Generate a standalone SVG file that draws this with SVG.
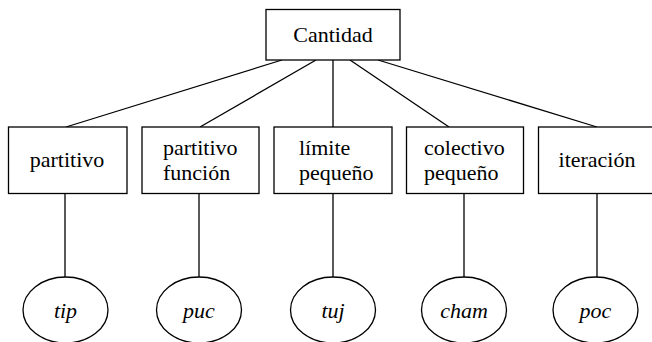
<svg xmlns="http://www.w3.org/2000/svg" width="652" height="342" viewBox="0 0 652 342">
<style>
.box{fill:#fff;stroke:#000;stroke-width:1.3}
.ell{fill:#fff;stroke:#000;stroke-width:1.3}
.ln{stroke:#000;stroke-width:1.3;fill:none}
.t{font-family:'Liberation Serif','DejaVu Serif',serif;font-size:22px;fill:#000}
.c{text-anchor:middle}
.it{font-style:italic;text-anchor:middle}
</style>
<rect width="652" height="342" fill="#fff"/>
<g id="connectors">
<line class="ln" x1="282" y1="60" x2="66" y2="127"/>
<line class="ln" x1="316" y1="60" x2="200" y2="127"/>
<line class="ln" x1="333" y1="60" x2="333" y2="127"/>
<line class="ln" x1="350" y1="60" x2="449" y2="127"/>
<line class="ln" x1="378" y1="60" x2="597" y2="127"/>
<line class="ln" x1="65" y1="193.5" x2="65" y2="277"/>
<line class="ln" x1="199" y1="193.5" x2="199" y2="277"/>
<line class="ln" x1="333" y1="193.5" x2="333" y2="277"/>
<line class="ln" x1="464" y1="193.5" x2="464" y2="277"/>
<line class="ln" x1="597" y1="193.5" x2="597" y2="277"/>
</g>
<g id="cantidad">
<rect class="box" x="266" y="9.5" width="134" height="50.5"/>
<text class="t c" font-family="Liberation Serif, serif" x="333" y="42">Cantidad</text>
</g>
<g id="partitivo">
<rect class="box" x="8.5" y="127" width="118.5" height="66.5"/>
<text class="t c" font-family="Liberation Serif, serif" x="67" y="167">partitivo</text>
</g>
<g id="partitivo-funcion">
<rect class="box" x="142" y="127" width="117" height="66.5"/>
<text class="t" font-family="Liberation Serif, serif" x="163" y="155">partitivo</text>
<text class="t" font-family="Liberation Serif, serif" x="163" y="180">función</text>
</g>
<g id="limite-pequeno">
<rect class="box" x="274" y="127" width="118" height="66.5"/>
<text class="t" font-family="Liberation Serif, serif" x="299" y="155">límite</text>
<text class="t" font-family="Liberation Serif, serif" x="299" y="180">pequeño</text>
</g>
<g id="colectivo-pequeno">
<rect class="box" x="406.5" y="127" width="117" height="66.5"/>
<text class="t" font-family="Liberation Serif, serif" x="424" y="155">colectivo</text>
<text class="t" font-family="Liberation Serif, serif" x="424" y="180">pequeño</text>
</g>
<g id="iteracion">
<rect class="box" x="538.5" y="127" width="120" height="66.5"/>
<text class="t c" font-family="Liberation Serif, serif" x="597" y="167">iteración</text>
</g>
<g id="tip">
<ellipse class="ell" cx="65.5" cy="310" rx="42.5" ry="33"/>
<text class="t it" font-family="Liberation Serif, serif" x="65.5" y="318">tip</text>
</g>
<g id="puc">
<ellipse class="ell" cx="199" cy="310" rx="42.5" ry="33"/>
<text class="t it" font-family="Liberation Serif, serif" x="199" y="318">puc</text>
</g>
<g id="tuj">
<ellipse class="ell" cx="333" cy="310" rx="42.5" ry="33"/>
<text class="t it" font-family="Liberation Serif, serif" x="333" y="318">tuj</text>
</g>
<g id="cham">
<ellipse class="ell" cx="464" cy="310" rx="42.5" ry="33"/>
<text class="t it" font-family="Liberation Serif, serif" x="464" y="318">cham</text>
</g>
<g id="poc">
<ellipse class="ell" cx="595.5" cy="310" rx="42.5" ry="33"/>
<text class="t it" font-family="Liberation Serif, serif" x="595.5" y="318">poc</text>
</g>
</svg>
